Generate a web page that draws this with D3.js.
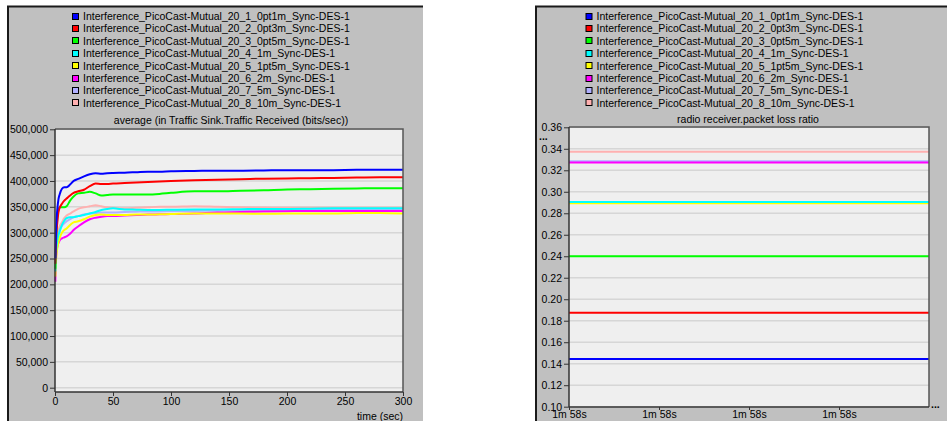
<!DOCTYPE html>
<head>
  <meta charset="utf-8">
  <script src="https://cdn.jsdelivr.net/npm/d3@7"></script>
  <style>
    body { margin:0; background:#fff; }
    text { font-family: "Liberation Sans", Arial, sans-serif; font-size: 10.5px; fill:#000; }
  </style>
</head>
<body>
<script>
  // series names and colours (same for both panels)
  var seriesNames = [
    "Interference_PicoCast-Mutual_20_1_0pt1m_Sync-DES-1",
    "Interference_PicoCast-Mutual_20_2_0pt3m_Sync-DES-1",
    "Interference_PicoCast-Mutual_20_3_0pt5m_Sync-DES-1",
    "Interference_PicoCast-Mutual_20_4_1m_Sync-DES-1",
    "Interference_PicoCast-Mutual_20_5_1pt5m_Sync-DES-1",
    "Interference_PicoCast-Mutual_20_6_2m_Sync-DES-1",
    "Interference_PicoCast-Mutual_20_7_5m_Sync-DES-1",
    "Interference_PicoCast-Mutual_20_8_10m_Sync-DES-1"
  ];
  var seriesColors = ["#0000ff", "#ff0000", "#00ff00", "#00ffff", "#ffff00", "#ff00ff", "#b0b0ff", "#ffb0b0"];

  // left chart: time (sec) and average traffic received (thousands of bits/sec)
  var times = [0.3, 1, 2, 3, 4, 6, 8, 10, 13, 16, 20, 25, 30, 35, 40, 45, 50, 60, 70, 80, 90, 100, 120, 140, 160, 180, 200, 220, 240, 260, 280, 300];
  var traffic1 = [250, 310, 345, 365, 374, 385, 388, 388, 393, 400, 404, 409, 413, 415, 414, 415, 415.5, 416, 417, 418, 418, 419, 419.5, 420, 420, 420.5, 421, 421, 421, 421.5, 421.5, 421.5];
  var traffic2 = [240, 290, 320, 340, 348, 356, 362, 366, 372, 377, 380, 383, 390, 395, 394, 394, 395, 396, 397, 398, 399, 400, 401.5, 402.5, 403.5, 404.5, 405, 405.5, 406, 406.5, 407, 407];
  var traffic3 = [230, 290, 330, 345, 349, 349, 349, 351, 362, 370, 376, 377, 379, 376, 372, 373, 374, 374, 374, 374, 375, 377, 380, 380, 381, 382, 383.5, 384, 385, 385.5, 386, 386];
  var traffic4 = [225, 265, 285, 295, 302, 315, 323, 328, 330, 330, 332, 334, 337, 340, 344, 346, 347, 345, 344.5, 344, 344, 344.5, 345, 345, 345.5, 346, 346, 346.5, 347, 347, 347, 347];
  var traffic5 = [215, 250, 270, 282, 290, 300, 305, 308, 315, 320, 322, 326, 331, 334, 335, 334, 334, 334, 335, 335, 335.5, 336, 337, 337, 337, 336.5, 337, 337, 337, 338, 338, 337];
  var traffic6 = [205, 255, 273, 280, 285, 289, 291, 293, 298, 305, 312, 320, 326, 329, 331, 332, 332, 333, 334, 335, 335.5, 336, 337, 339, 340, 341, 341.5, 342, 342, 342, 342, 342];
  var traffic7 = [220, 265, 290, 300, 306, 313, 318, 322, 326, 330, 332, 335, 337, 338, 339, 339, 339, 340, 340.5, 341, 341, 341.5, 342, 342.5, 343, 343, 343.5, 343.5, 344, 344, 344, 344];
  var traffic8 = [225, 270, 295, 305, 312, 320, 328, 333, 337, 341, 346, 349, 351, 353, 351, 349, 348, 347, 348, 349, 350, 350, 351, 350, 349, 348.5, 348, 348, 348, 348, 348, 348];
  var trafficSeries = [traffic1, traffic2, traffic3, traffic4, traffic5, traffic6, traffic7, traffic8];
  var trafficTicks = [0, 50000, 100000, 150000, 200000, 250000, 300000, 350000, 400000, 450000, 500000];
  var timeTicks = [0, 50, 100, 150, 200, 250, 300];

  // right chart: packet loss ratio (constant over the sampled instant)
  var lossTimes = [118.0, 118.4];
  var lossRatio = [0.1445, 0.1875, 0.240, 0.2905, 0.2893, 0.3272, 0.3284, 0.3373];
  var lossTicks = [0.10, 0.12, 0.14, 0.16, 0.18, 0.20, 0.22, 0.24, 0.26, 0.28, 0.30, 0.32, 0.34, 0.36];
  var lossTimeTicks = [118.0, 118.1, 118.2, 118.3];

  var svg = d3.select("body").append("svg").attr("width", 947).attr("height", 421);

  function panel(x0, x1) {
    svg.append("rect").attr("x", x0).attr("y", 6.5).attr("width", x1 - x0).attr("height", 421)
      .attr("fill", "#c0c0c0");
    svg.append("path").attr("d", "M" + x0 + ",421V6.5H" + x1)
      .attr("fill", "none").attr("stroke", "#1a1a1a").attr("stroke-width", 2);
  }

  function legend(xSq) {
    var g = svg.append("g");
    seriesNames.forEach(function(name, i) {
      var y = 16 + i * 12.4;
      g.append("rect").attr("x", xSq + 0.5).attr("y", Math.round(y - 3.5) + 0.5).attr("width", 6).attr("height", 6)
        .attr("fill", seriesColors[i]).attr("stroke", "#000").attr("stroke-width", 1);
      g.append("text").attr("x", xSq + 11).attr("y", y + 4).attr("font-size", 10.2).text(name);
    });
  }

  // ---------- left panel ----------
  panel(8, 423);
  legend(72);

  var x = d3.scaleLinear().domain([0, 300]).range([55, 403]);
  var y = d3.scaleLinear().domain([0, 500000]).range([387.7, 129.3]);

  svg.append("rect").attr("x", 55).attr("y", 129).attr("width", 348).attr("height", 263).attr("fill", "#efefef");
  svg.append("g").selectAll("line").data(trafficTicks).enter().append("line")
    .attr("x1", 55).attr("x2", 403).attr("y1", function(d) { return y(d); }).attr("y2", function(d) { return y(d); })
    .attr("stroke", "#d6d6d6").attr("stroke-width", 1.5);

  var line = d3.line().x(function(d, i) { return x(times[i]); }).y(function(d) { return y(d * 1000); })
    .curve(d3.curveMonotoneX);
  for (var k = trafficSeries.length - 1; k >= 0; k--) {
    svg.append("path").datum(trafficSeries[k]).attr("d", line)
      .attr("fill", "none").attr("stroke", seriesColors[k]).attr("stroke-width", 2);
  }

  svg.append("path").attr("d", "M55,129H403V392").attr("fill", "none").attr("stroke", "#555").attr("stroke-width", 1.5);
  var yAx = svg.append("g").attr("transform", "translate(55,0)")
    .call(d3.axisLeft(y).tickValues(trafficTicks).tickSize(5).tickPadding(2).tickFormat(d3.format(",")));
  yAx.select(".domain").attr("d", "M0,129V392").attr("stroke", "#333").attr("stroke-width", 1.5);
  var xAx = svg.append("g").attr("transform", "translate(0,392)")
    .call(d3.axisBottom(x).tickValues(timeTicks).tickSize(4).tickPadding(2));
  xAx.select(".domain").attr("d", "M55,0H403").attr("stroke", "#333").attr("stroke-width", 1.5);
  svg.selectAll(".tick text").attr("font-size", 10.8).attr("font-family", "Liberation Sans, Arial, sans-serif").attr("fill", "#000");

  svg.append("text").attr("x", 231).attr("y", 124).attr("text-anchor", "middle")
    .text("average (in Traffic Sink.Traffic Received (bits/sec))");
  svg.append("text").attr("x", 403).attr("y", 419.5).attr("text-anchor", "end").text("time (sec)");

  // ---------- right panel ----------
  panel(536, 948);
  legend(585.5);

  var x2 = d3.scaleLinear().domain([118.0, 118.4]).range([569, 929]);
  var y2 = d3.scaleLinear().domain([0.10, 0.36]).range([406.7, 127.3]);

  svg.append("rect").attr("x", 569).attr("y", 127).attr("width", 360).attr("height", 280).attr("fill", "#efefef");
  svg.append("g").selectAll("line").data(lossTicks).enter().append("line")
    .attr("x1", 569).attr("x2", 929).attr("y1", function(d) { return y2(d); }).attr("y2", function(d) { return y2(d); })
    .attr("stroke", "#d6d6d6").attr("stroke-width", 1.5);

  for (var j = lossRatio.length - 1; j >= 0; j--) {
    var pts = lossTimes.map(function(t) { return [t, lossRatio[j]]; });
    svg.append("path").datum(pts)
      .attr("d", d3.line().x(function(d) { return x2(d[0]); }).y(function(d) { return y2(d[1]); }))
      .attr("fill", "none").attr("stroke", seriesColors[j]).attr("stroke-width", 2);
  }

  svg.append("path").attr("d", "M569,127H929V407").attr("fill", "none").attr("stroke", "#555").attr("stroke-width", 1.5);
  var yAx2 = svg.append("g").attr("transform", "translate(569,0)")
    .call(d3.axisLeft(y2).tickValues(lossTicks).tickSize(5).tickPadding(2).tickFormat(d3.format(".2f")));
  yAx2.select(".domain").attr("d", "M0,127V407").attr("stroke", "#333").attr("stroke-width", 1.5);
  var xAx2 = svg.append("g").attr("transform", "translate(0,407)")
    .call(d3.axisBottom(x2).tickValues(lossTimeTicks).tickSize(3).tickPadding(1)
      .tickFormat(function(d) { var s = Math.floor(d); return Math.floor(s / 60) + "m " + (s % 60) + "s"; }));
  xAx2.select(".domain").attr("d", "M569,0H929").attr("stroke", "#333").attr("stroke-width", 1.5);
  xAx2.selectAll(".tick text").attr("font-size", 10);
  yAx2.selectAll(".tick text").attr("font-size", 10.5);
  svg.selectAll(".tick line").attr("stroke", "#333");

  svg.append("text").attr("x", 539).attr("y", 140).attr("font-weight", "bold").attr("font-size", 7).text("...");
  svg.append("text").attr("x", 748).attr("y", 122.5).attr("text-anchor", "middle").text("radio receiver.packet loss ratio");
  svg.append("text").attr("x", 931).attr("y", 408).attr("font-weight", "bold").attr("font-size", 8).text("...");
</script>
</body>
